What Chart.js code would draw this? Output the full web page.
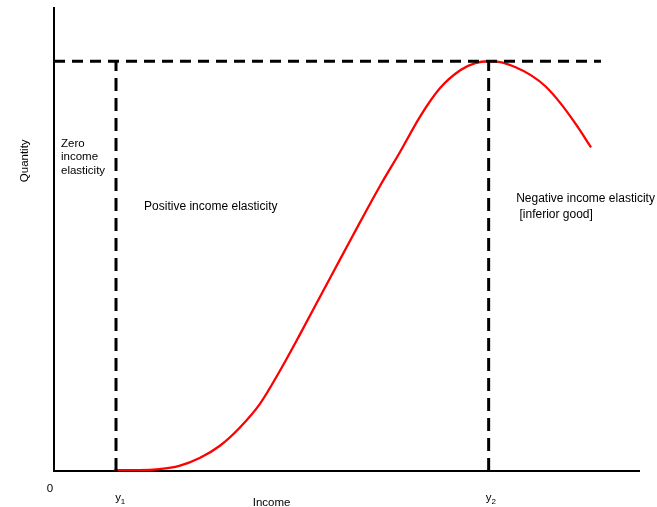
<!DOCTYPE html>
<html>
<head>
    <title>Income elasticity</title>
    <script src="https://cdn.jsdelivr.net/npm/chart.js@4.4.1/dist/chart.umd.min.js"></script>
    <style>
        body { margin: 0; background: #ffffff; }
        #wrap { width: 657px; height: 507px; position: relative; }
    </style>
</head>
<body>
<div id="wrap"><canvas id="chart"></canvas></div>
<script>
// curve: income (x) vs quantity (y)
var incomeX   = [10.3, 14.6, 18.0, 21.4, 24.9, 28.3, 31.7, 35.2, 38.6, 42.0, 45.5, 48.9, 52.3, 55.7, 59.2, 62.6, 66.0, 69.5, 72.0, 74.3, 76.3, 78.9, 81.5, 84.0, 86.6, 89.2, 91.8];
var quantityY = [0.2, 0.2, 0.4, 1.1, 2.8, 5.4, 9.3, 14.5, 21.6, 29.4, 37.7, 45.7, 53.7, 61.5, 69.0, 76.6, 82.7, 86.6, 88.1, 88.5, 88.3, 87.2, 85.5, 83.1, 79.4, 74.9, 69.9];

var peakQ = 88.5;
var y1 = 10.6, y2 = 74.3;
var dashEnd = 93.5;

// text labels [text, x, y] in data units
var notes = [
    ['Zero', 1.2, 70.7],
    ['income', 1.2, 67.8],
    ['elasticity', 1.2, 64.8],
    ['Positive income elasticity', 15.4, 57.1],
    ['Negative income elasticity', 79.0, 58.9],
    [' [inferior good]', 79.0, 55.4]
];

var pts = incomeX.map(function (x, i) { return { x: x, y: quantityY[i] }; });

var labelsPlugin = {
    id: 'labels',
    afterDraw: function (chart) {
        var c = chart.ctx, xs = chart.scales.x, ys = chart.scales.y;
        c.save();
        c.fillStyle = '#000';
        c.textBaseline = 'middle';
        notes.forEach(function (n, i) {
            c.font = (i >= 3 ? '12px' : '11.5px') + ' "Liberation Sans", Arial, sans-serif';
            c.fillText(n[0], xs.getPixelForValue(n[1]), ys.getPixelForValue(n[2]));
        });
        // axis labels
        var bottom = ys.getPixelForValue(0);
        c.font = '11.5px "Liberation Sans", Arial, sans-serif';
        c.textAlign = 'center';
        c.fillText('0', xs.getPixelForValue(0) - 4, bottom + 18);
        c.fillText('Income', xs.getPixelForValue(37.2), bottom + 32);
        c.fillText('y', xs.getPixelForValue(y1) + 2, bottom + 27);
        c.fillText('y', xs.getPixelForValue(y2), bottom + 27);
        c.font = '8px "Liberation Sans", Arial, sans-serif';
        c.fillText('1', xs.getPixelForValue(y1) + 7, bottom + 31);
        c.fillText('2', xs.getPixelForValue(y2) + 5, bottom + 31);
        // y title
        c.font = '11.5px "Liberation Sans", Arial, sans-serif';
        c.translate(25, ys.getPixelForValue(67));
        c.rotate(-Math.PI / 2);
        c.fillText('Quantity', 0, 0);
        c.restore();
    }
};

new Chart(document.getElementById('chart'), {
    type: 'line',
    data: {
        datasets: [
            {
                data: [{ x: 0, y: peakQ }, { x: dashEnd, y: peakQ }],
                borderColor: '#000', borderWidth: 3, borderDash: [11, 7], pointRadius: 0
            },
            {
                data: [{ x: y1, y: 0 }, { x: y1, y: peakQ }],
                borderColor: '#000', borderWidth: 3, borderDash: [13, 7], pointRadius: 0
            },
            {
                data: [{ x: y2, y: 0 }, { x: y2, y: peakQ }],
                borderColor: '#000', borderWidth: 3, borderDash: [13, 7], pointRadius: 0
            },
            {
                data: pts,
                borderColor: '#ff0000', borderWidth: 2.3, pointRadius: 0,
                cubicInterpolationMode: 'monotone'
            }
        ]
    },
    options: {
        responsive: true,
        maintainAspectRatio: false,
        animation: false,
        layout: { padding: { left: 54, right: 18, top: 8, bottom: 36 } },
        plugins: { legend: { display: false }, tooltip: { enabled: false } },
        scales: {
            x: {
                type: 'linear', min: 0, max: 100,
                grid: { display: false, drawTicks: false },
                border: { display: true, color: '#000', width: 2 },
                ticks: { display: false }
            },
            y: {
                type: 'linear', min: 0, max: 100,
                grid: { display: false, drawTicks: false },
                border: { display: true, color: '#000', width: 2 },
                ticks: { display: false }
            }
        }
    },
    plugins: [labelsPlugin]
});
</script>
</body>
</html>
